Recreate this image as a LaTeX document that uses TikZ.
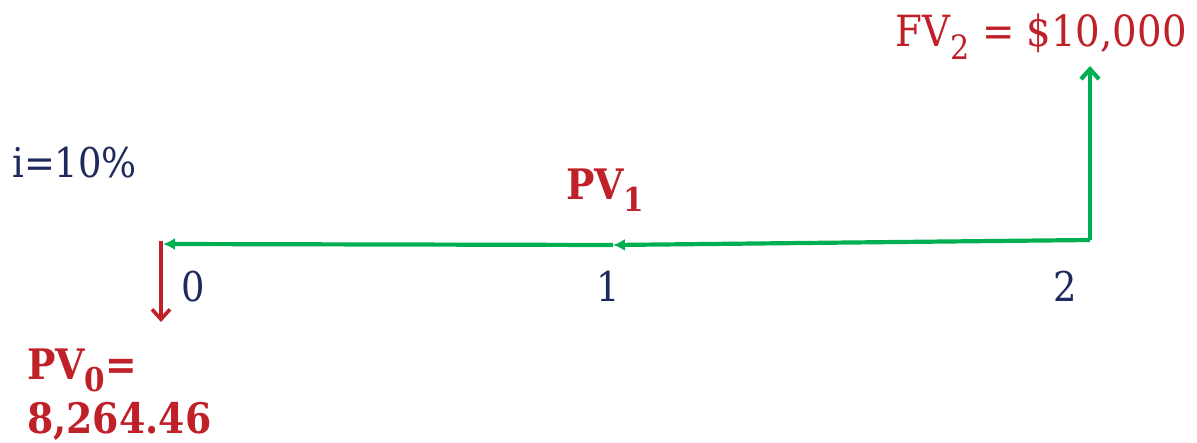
\documentclass[tikz,border=0pt]{standalone}
\usepackage{fontspec}
\setmainfont[FakeStretch=0.9]{DejaVu Serif}
\usetikzlibrary{arrows.meta}
\definecolor{fgreen}{RGB}{0,176,80}
\definecolor{fred}{RGB}{192,32,40}
\definecolor{fnavy}{RGB}{31,42,92}
\newcommand\lowsub[1]{\raisebox{-0.28em}{\scalebox{0.78}{#1}}}
\tikzset{
  flow/.style={draw=fgreen, line width=4.2pt},
  redflow/.style={draw=fred, line width=3.6pt},
  lbl/.style={inner sep=0pt, text=fnavy, font=\fontsize{41}{41}\selectfont},
  redlbl/.style={inner sep=0pt, text=fred, font=\fontsize{43}{43}\selectfont},
  boldlbl/.style={inner sep=0pt, text=fred, font=\fontsize{42}{46}\selectfont\bfseries, align=left},
}
\begin{document}
\begin{tikzpicture}[x=1pt,y=-1pt]
\useasboundingbox (0,0) rectangle (1197,443);
\coordinate (t0) at (163,244);
\coordinate (t1) at (613,245);
\coordinate (t2) at (1090,240);
\coordinate (fvtip) at (1090,66);
\coordinate (r0) at (161,241);
\coordinate (rtip) at (161,322);
\draw[flow, -{Latex[length=12pt,width=12pt]}] (t2) -- (t1);
\draw[flow, -{Latex[length=12pt,width=12pt]}] (t1) -- (t0);
\draw[flow, line cap=butt, -{Straight Barb[length=10pt,width=18pt]}] (t2) -- (fvtip);
\draw[redflow, -{Straight Barb[length=10pt,width=18pt]}] (r0) -- (rtip);
\node[redlbl, anchor=base east] (fv) at (1187,47) {FV\lowsub{2} = \$10,000};
\node[lbl, anchor=base west] (rate) at (12,178) {i=10\%};
\node[lbl, anchor=base west] (l0) at (181,302) {0};
\node[lbl, anchor=base west] (l1) at (596,302) {1};
\node[lbl, anchor=base west] (l2) at (1053,302) {2};
\node[boldlbl, anchor=base west] (pv1) at (566,200) {PV\lowsub{1}};
\node[boldlbl, anchor=base west] (pv0a) at (27,380) {PV\lowsub{0}=};
\node[boldlbl, anchor=base west] (pv0b) at (27,434) {8,264.46};
\end{tikzpicture}
\end{document}
